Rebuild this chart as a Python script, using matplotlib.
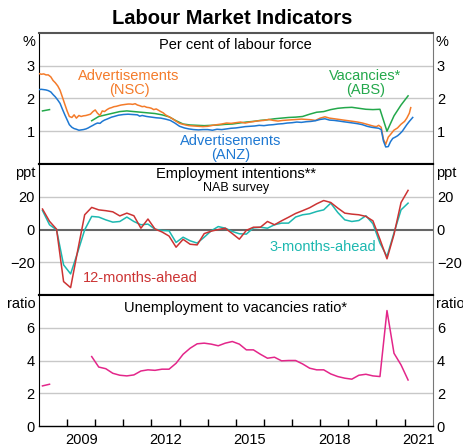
import numpy as np
import matplotlib.pyplot as plt

plt.rcParams['font.family'] = ['Liberation Sans', 'DejaVu Sans']

nan = np.nan

# Job advertisements, per cent of labour force (monthly-ish)
nsc_dates = [2008.00, 2008.08, 2008.17, 2008.25, 2008.33, 2008.42, 2008.50, 2008.58, 2008.67, 2008.75,
             2008.83, 2008.92, 2009.00, 2009.08, 2009.17, 2009.25, 2009.33, 2009.42, 2009.50, 2009.58,
             2009.67, 2009.75, 2009.83, 2009.92, 2010.00, 2010.08, 2010.17, 2010.25, 2010.33, 2010.42,
             2010.50, 2010.58, 2010.67, 2010.75, 2010.83, 2010.92, 2011.00, 2011.08, 2011.17, 2011.25,
             2011.33, 2011.42, 2011.50, 2011.58, 2011.67, 2011.75, 2011.83, 2011.92, 2012.00, 2012.08,
             2012.17, 2012.25, 2012.33, 2012.42, 2012.50, 2012.58, 2012.67, 2012.75, 2012.83, 2012.92,
             2013.00, 2013.17, 2013.33, 2013.50, 2013.67, 2013.83, 2014.00, 2014.17, 2014.33, 2014.50,
             2014.67, 2014.83, 2015.00, 2015.17, 2015.33, 2015.50, 2015.67, 2015.83, 2016.00, 2016.17,
             2016.33, 2016.50, 2016.67, 2016.83, 2017.00, 2017.17, 2017.33, 2017.50, 2017.67, 2017.83,
             2018.00, 2018.17, 2018.33, 2018.50, 2018.67, 2018.83, 2019.00, 2019.17, 2019.33, 2019.50,
             2019.67, 2019.83, 2019.92, 2020.00, 2020.08, 2020.17, 2020.25, 2020.33, 2020.42, 2020.50,
             2020.62, 2020.75, 2020.87, 2021.00, 2021.08, 2021.17, 2021.22]
nsc_values = [2.76, 2.74, 2.75, 2.72, 2.72, 2.66, 2.55, 2.48, 2.38, 2.25,
              2.05, 1.82, 1.62, 1.45, 1.42, 1.50, 1.40, 1.48, 1.45, 1.47,
              1.48, 1.50, 1.52, 1.60, 1.65, 1.55, 1.48, 1.62, 1.60, 1.66,
              1.70, 1.72, 1.75, 1.76, 1.78, 1.80, 1.81, 1.82, 1.83, 1.83,
              1.82, 1.84, 1.80, 1.78, 1.75, 1.76, 1.73, 1.72, 1.70, 1.66,
              1.68, 1.64, 1.60, 1.56, 1.50, 1.46, 1.42, 1.38, 1.33, 1.28,
              1.24, 1.20, 1.17, 1.16, 1.15, 1.14, 1.15, 1.18, 1.20, 1.22,
              1.25, 1.24, 1.26, 1.28, 1.25, 1.28, 1.30, 1.32, 1.33, 1.36,
              1.33, 1.31, 1.33, 1.34, 1.35, 1.36, 1.37, 1.36, 1.35, 1.33,
              1.40, 1.44, 1.40, 1.38, 1.36, 1.34, 1.32, 1.30, 1.28, 1.25,
              1.21, 1.17, 1.15, 1.14, 1.18, 1.12, 0.75, 0.60, 0.82, 0.90,
              1.03, 1.10, 1.21, 1.30, 1.40, 1.55, 1.72]

anz_dates = [2008.00, 2008.08, 2008.17, 2008.25, 2008.33, 2008.42, 2008.50, 2008.58, 2008.67, 2008.75,
             2008.83, 2008.92, 2009.00, 2009.08, 2009.17, 2009.25, 2009.33, 2009.42, 2009.50, 2009.58,
             2009.67, 2009.75, 2009.83, 2009.92, 2010.00, 2010.08, 2010.17, 2010.25, 2010.33, 2010.42,
             2010.50, 2010.58, 2010.67, 2010.75, 2010.83, 2010.92, 2011.00, 2011.17, 2011.33, 2011.50,
             2011.58, 2011.67, 2011.83, 2012.00, 2012.17, 2012.33, 2012.50, 2012.67, 2012.83, 2013.00,
             2013.17, 2013.33, 2013.50, 2013.67, 2013.83, 2014.00, 2014.17, 2014.33, 2014.50, 2014.67,
             2014.83, 2015.00, 2015.17, 2015.33, 2015.50, 2015.67, 2015.83, 2016.00, 2016.17, 2016.33,
             2016.50, 2016.67, 2016.83, 2017.00, 2017.17, 2017.33, 2017.50, 2017.67, 2017.83, 2018.00,
             2018.17, 2018.33, 2018.50, 2018.67, 2018.83, 2019.00, 2019.17, 2019.33, 2019.50, 2019.67,
             2019.83, 2020.00, 2020.08, 2020.17, 2020.25, 2020.33, 2020.42, 2020.50, 2020.58, 2020.67,
             2020.75, 2020.83, 2020.92, 2021.00, 2021.08, 2021.17, 2021.29]
anz_values = [2.27, 2.28, 2.27, 2.26, 2.24, 2.20, 2.12, 2.05, 1.95, 1.85,
              1.68, 1.50, 1.35, 1.20, 1.12, 1.08, 1.06, 1.03, 1.04, 1.05,
              1.07, 1.10, 1.14, 1.18, 1.22, 1.25, 1.24, 1.30, 1.34, 1.37,
              1.40, 1.43, 1.45, 1.47, 1.49, 1.50, 1.51, 1.52, 1.51, 1.50,
              1.46, 1.48, 1.45, 1.43, 1.41, 1.40, 1.37, 1.33, 1.25, 1.15,
              1.10, 1.07, 1.05, 1.04, 1.05, 1.05, 1.03, 1.06, 1.05, 1.07,
              1.09, 1.10, 1.12, 1.14, 1.15, 1.16, 1.18, 1.17, 1.19, 1.20,
              1.22, 1.23, 1.25, 1.26, 1.28, 1.27, 1.29, 1.30, 1.32, 1.36,
              1.38, 1.34, 1.33, 1.31, 1.29, 1.27, 1.25, 1.23, 1.20, 1.15,
              1.12, 1.10, 1.09, 1.05, 0.70, 0.52, 0.53, 0.68, 0.78, 0.82,
              0.86, 0.92, 1.00, 1.10, 1.20, 1.30, 1.42]

# Quarterly series, 2008Q1 .. 2021Q1 (mid-quarter)
quarters = 2008.125 + 0.25 * np.arange(53)

vacancies_abs = [1.62, 1.66, nan, nan, nan, nan, nan,
                 1.32, 1.45, 1.50, 1.55, 1.60, 1.62, 1.60, 1.58, 1.56, 1.54,
                 1.50, 1.44, 1.32, 1.22, 1.19, 1.18, 1.17, 1.18, 1.19, 1.21,
                 1.22, 1.25, 1.28, 1.30, 1.33, 1.35, 1.38, 1.40, 1.42, 1.43,
                 1.45, 1.52, 1.58, 1.60, 1.66, 1.70, 1.72, 1.73, 1.70, 1.67,
                 1.66, 1.67, 1.00, 1.47, 1.80, 2.08]

nab_12m = [12.5, 5.0, 0.2, -31.8, -35.5, -13.0, 9.0, 13.5, 12.0, 11.5,
           10.8, 8.3, 10.0, 8.4, 0.8, 6.4, 0.3, -1.5, -4.0, -10.8,
           -6.0, -9.0, -9.4, -2.5, -1.0, 0.0, 0.8, -2.5, -5.9, -0.5,
           1.4, 1.4, 4.9, 2.9, 5.3, 7.5, 9.8, 11.5, 13.3, 15.7,
           17.7, 16.5, 13.1, 10.0, 9.4, 9.0, 8.0, 5.3, -6.0, -17.9,
           -3.0, 16.5, 23.9]
nab_3m = [11.6, 2.9, -0.2, -21.6, -27.1, -14.0, -0.2, 8.0, 7.6, 5.9,
          4.5, 4.9, 7.6, 4.9, 2.9, 3.3, 0.2, -0.6, -0.8, -7.9,
          -4.7, -6.9, -8.3, -4.7, -0.8, 1.8, 0.8, -1.2, -2.6, -2.8,
          1.0, 1.4, 0.8, 2.9, 3.9, 3.9, 7.6, 9.0, 9.6, 11.0,
          12.0, 16.1, 10.4, 5.9, 4.9, 5.5, 8.4, 3.5, -8.3, -16.5,
          -2.0, 12.0, 16.1]

uv_ratio = [2.45, 2.55, nan, nan, nan, nan, nan,
            4.24, 3.60, 3.50, 3.22, 3.10, 3.06, 3.12, 3.36, 3.43, 3.40,
            3.47, 3.47, 3.83, 4.38, 4.75, 5.02, 5.06, 5.00, 4.90, 5.06,
            5.16, 5.00, 4.65, 4.65, 4.38, 4.14, 4.20, 3.98, 4.00, 4.00,
            3.79, 3.53, 3.43, 3.43, 3.18, 3.02, 2.92, 2.86, 3.10, 3.16,
            3.06, 3.02, 7.05, 4.44, 3.73, 2.81]

c_nsc = '#F47B2A'
c_anz = '#1E78D2'
c_abs = '#23A84B'
c_12m = '#CC3333'
c_3m = '#1DB8B0'
c_uv = '#E3268A'

fs = 10.5
fig = plt.figure(figsize=(4.64, 4.48), dpi=100)
left, width, h = 0.084, 0.8485, 0.2924
bottoms = [0.634, 0.3415, 0.0491]
axes = [fig.add_axes([left, b, width, h]) for b in bottoms]

panels = [
    dict(ylim=(0, 4), ticks=[1, 2, 3], unit='%'),
    dict(ylim=(-40, 40), ticks=[-20, 0, 20], unit='ppt'),
    dict(ylim=(0, 8), ticks=[0, 2, 4, 6], unit='ratio'),
]

for i, (ax, p) in enumerate(zip(axes, panels)):
    ax.set_xlim(2008, 2022)
    ax.set_ylim(*p['ylim'])
    ax.set_yticks(p['ticks'])
    ax.tick_params(axis='y', length=0, labelsize=fs, labelright=True, pad=3)
    for t in p['ticks']:
        if t == 0 and i == 1:
            ax.axhline(0, color='#666666', lw=1.5, zorder=1)
        elif t != 0:
            ax.axhline(t, color='#c8c8c8', lw=1.0, zorder=1)
    ax.text(-0.008, 0.985, p['unit'], transform=ax.transAxes, ha='right', va='top', fontsize=fs)
    ax.text(1.008, 0.985, p['unit'], transform=ax.transAxes, ha='left', va='top', fontsize=fs)
    ax.spines['left'].set_color('black')
    ax.spines['right'].set_color('#777777')
    ax.spines['top'].set_color('#555555' if i == 0 else 'black')
    ax.spines['top'].set_linewidth(1.5)
    ax.spines['bottom'].set_color('black')
    ax.spines['bottom'].set_linewidth(1.5 if i < 2 else 1.0)
    if i < 2:
        ax.set_xticks([])
    else:
        ax.set_xticks(np.arange(2009, 2022))
        ax.set_xticks(np.arange(2009.5, 2022, 3), minor=True)
        ax.set_xticklabels([])
        ax.set_xticklabels([str(y) for y in range(2009, 2022, 3)], minor=True)
        ax.tick_params(axis='x', which='major', direction='in', length=5, width=1)
        ax.tick_params(axis='x', which='minor', length=0, pad=5, labelsize=fs)

# Panel 1: advertisements and vacancies
ax = axes[0]
ax.plot(nsc_dates, nsc_values, color=c_nsc, lw=1.1, zorder=3)
ax.plot(anz_dates, anz_values, color=c_anz, lw=1.1, zorder=3)
ax.plot(quarters, vacancies_abs, color=c_abs, lw=1.1, zorder=2)
ax.text(0.5, 0.91, 'Per cent of labour force', transform=ax.transAxes, ha='center', va='center', fontsize=fs)
ax.text(2011.2, 2.48, 'Advertisements\n(NSC)', color=c_nsc, ha='center', va='center', fontsize=fs, linespacing=1.0)
ax.text(2019.6, 2.48, 'Vacancies*\n(ABS)', color=c_abs, ha='center', va='center', fontsize=fs, linespacing=1.0)
ax.text(2014.8, 0.50, 'Advertisements\n(ANZ)', color=c_anz, ha='center', va='center', fontsize=fs, linespacing=1.0)

# Panel 2: NAB employment intentions
ax = axes[1]
ax.plot(quarters, nab_3m, color=c_3m, lw=1.1, zorder=3)
ax.plot(quarters, nab_12m, color=c_12m, lw=1.1, zorder=3)
ax.text(0.5, 0.92, 'Employment intentions**', transform=ax.transAxes, ha='center', va='center', fontsize=fs)
ax.text(0.5, 0.82, 'NAB survey', transform=ax.transAxes, ha='center', va='center', fontsize=9)
ax.text(2018.1, -10.8, '3-months-ahead', color=c_3m, ha='center', va='center', fontsize=fs)
ax.text(2011.6, -29.7, '12-months-ahead', color=c_12m, ha='center', va='center', fontsize=fs)

# Panel 3: unemployment to vacancies
ax = axes[2]
ax.plot(quarters, uv_ratio, color=c_uv, lw=1.1, zorder=3)
ax.text(0.5, 0.9, 'Unemployment to vacancies ratio*', transform=ax.transAxes, ha='center', va='center', fontsize=fs)

fig.text(0.5, 1 - 18 / 448, 'Labour Market Indicators', ha='center', va='center',
         fontsize=14.5, fontweight='bold')

fig.savefig('out.png', dpi=100)
